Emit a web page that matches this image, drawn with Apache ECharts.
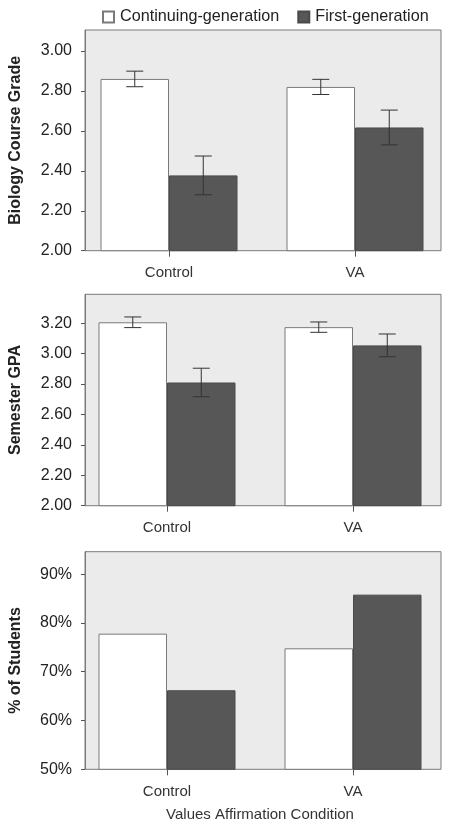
<!DOCTYPE html>
<html>
<head>
<meta charset="utf-8">
<script src="https://cdn.jsdelivr.net/npm/echarts@6/dist/echarts.min.js"></script>
<style>
html,body{margin:0;padding:0;background:#fff;}
#chart{width:452px;height:829px;}
</style>
</head>
<body>
<div id="chart"></div>
<script>
// ---- data ----
const categories = ['Control', 'VA'];
const seriesNames = ['Continuing-generation', 'First-generation'];

const gradeCont = [2.86, 2.82];
const gradeContErr = [0.039, 0.038];
const gradeFirst = [2.377, 2.617];
const gradeFirstErr = [0.097, 0.087];

const gpaCont = [3.206, 3.174];
const gpaContErr = [0.035, 0.034];
const gpaFirst = [2.81, 3.054];
const gpaFirstErr = [0.094, 0.075];

const pctCont = [77.8, 74.8];
const pctFirst = [66.2, 85.8];

const yTitles = ['Biology Course Grade', 'Semester GPA', '% of Students'];
const xTitle = 'Values Affirmation Condition';

// ---- styling / layout ----
const FONT = '"Liberation Sans", Arial, Helvetica, sans-serif';
const BAR_W = 68.5;
const panels = [
  {box: {left: 83, right: 11, top: 30, height: 220.7}, data: {left: 76, right: 4},
   min: 2, max: 3.105, interval: 0.2, fmt: v => v.toFixed(2),
   cont: gradeCont, first: gradeFirst, contErr: gradeContErr, firstErr: gradeFirstErr},
  {box: {left: 81, right: 11, top: 294.3, height: 211.4}, data: {left: 74, right: 6},
   min: 2, max: 3.39, interval: 0.2, fmt: v => v.toFixed(2),
   cont: gpaCont, first: gpaFirst, contErr: gpaContErr, firstErr: gpaFirstErr},
  {box: {left: 81, right: 11, top: 551.7, height: 217.6}, data: {left: 74, right: 6},
   min: 50, max: 94.6, interval: 10, fmt: v => Math.round(v) + '%',
   cont: pctCont, first: pctFirst, contErr: null, firstErr: null}
];

const grid = [], xAxis = [], yAxis = [], series = [];

function errRender(offsetSign) {
  return function (params, api) {
    const idx = api.value(0);
    const cx = api.coord([idx, api.value(1)])[0] + offsetSign * BAR_W / 2;
    const yLo = api.coord([idx, api.value(1)])[1];
    const yHi = api.coord([idx, api.value(2)])[1];
    const cap = 8.5;
    const st = {stroke: '#333', lineWidth: 1};
    return {
      type: 'group',
      children: [
        {type: 'line', shape: {x1: cx, y1: yLo, x2: cx, y2: yHi}, style: st},
        {type: 'line', shape: {x1: cx - cap, y1: yLo, x2: cx + cap, y2: yLo}, style: st},
        {type: 'line', shape: {x1: cx - cap, y1: yHi, x2: cx + cap, y2: yHi}, style: st}
      ]
    };
  };
}

panels.forEach((p, i) => {
  const gb = 2 * i, gd = 2 * i + 1;
  grid.push({left: p.box.left, right: p.box.right, top: p.box.top, height: p.box.height,
    show: true, backgroundColor: '#ebebeb', borderColor: '#7a7a7a', borderWidth: 1});
  grid.push({left: p.data.left, right: p.data.right, top: p.box.top, height: p.box.height});

  xAxis.push({type: 'value', gridIndex: gb, show: false, min: 0, max: 1});
  xAxis.push({
    type: 'category', gridIndex: gd, data: categories,
    axisLine: {show: false},
    axisTick: {show: true, alignWithLabel: true, length: 6, lineStyle: {color: '#555'}},
    axisLabel: {color: '#333', fontSize: 15, fontFamily: FONT, margin: 15},
    name: i === 2 ? xTitle : '', nameLocation: 'middle', nameGap: 38,
    nameTextStyle: {color: '#333', fontSize: 15, fontFamily: FONT}
  });

  yAxis.push({
    type: 'value', gridIndex: gb, min: p.min, max: p.max, interval: p.interval,
    axisLine: {show: true, lineStyle: {color: '#7a7a7a'}},
    axisTick: {show: true, length: 4, lineStyle: {color: '#555'}},
    splitLine: {show: false},
    axisLabel: {color: '#222', fontSize: 16, fontFamily: FONT, margin: 13, formatter: p.fmt,
      showMaxLabel: false},
    name: yTitles[i], nameLocation: 'middle', nameGap: 61,
    nameTextStyle: {color: '#222', fontSize: 16, fontWeight: 'bold', fontFamily: FONT}
  });
  yAxis.push({type: 'value', gridIndex: gd, min: p.min, max: p.max, show: false, splitLine: {show: false}});

  series.push({
    name: seriesNames[0], type: 'bar', xAxisIndex: gd, yAxisIndex: gd,
    data: p.cont, barWidth: BAR_W, barGap: '0%',
    itemStyle: {color: '#ffffff', borderColor: '#7a7a7a', borderWidth: 1},
    emphasis: {disabled: true}
  });
  series.push({
    name: seriesNames[1], type: 'bar', xAxisIndex: gd, yAxisIndex: gd,
    data: p.first, barWidth: BAR_W, barGap: '0%',
    itemStyle: {color: '#575757', borderColor: '#4a4a4a', borderWidth: 1},
    emphasis: {disabled: true}
  });
  if (p.contErr) {
    series.push({
      type: 'custom', xAxisIndex: gd, yAxisIndex: gd, z: 5,
      renderItem: errRender(-1),
      data: categories.map((c, k) => [k, p.cont[k] - p.contErr[k], p.cont[k] + p.contErr[k]])
    });
    series.push({
      type: 'custom', xAxisIndex: gd, yAxisIndex: gd, z: 5,
      renderItem: errRender(1),
      data: categories.map((c, k) => [k, p.first[k] - p.firstErr[k], p.first[k] + p.firstErr[k]])
    });
  }
});

const chart = echarts.init(document.getElementById('chart'), null, {renderer: 'canvas'});
chart.setOption({
  animation: false,
  textStyle: {fontFamily: FONT},
  legend: {
    data: seriesNames, top: 4, left: 97, icon: 'rect', itemWidth: 11, itemHeight: 11,
    itemGap: 18, selectedMode: false,
    textStyle: {color: '#222', fontSize: 16.2, fontFamily: FONT, padding: [0, 0, 0, 1]}
  },
  grid, xAxis, yAxis, series
});
</script>
</body>
</html>
